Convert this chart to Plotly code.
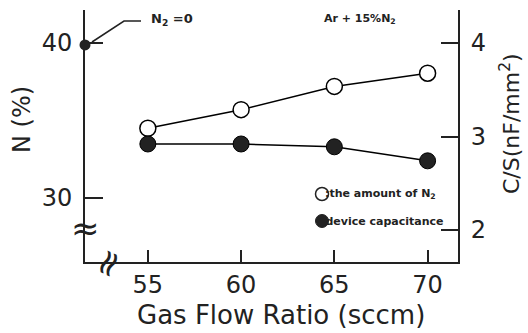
import plotly.graph_objects as go

flow = [55, 60, 65, 70]
n_percent = [34.5, 35.7, 37.2, 38.05]
capacitance = [2.92, 2.92, 2.89, 2.74]
ref_x = [51.63]
ref_cap = [3.98]
x_ticks = [55, 60, 65, 70]
y_ticks = [30, 40]
y2_ticks = [2, 3, 4]

FONT = "DejaVu Sans"
INK = "#222"

L, R, T, B = 85, 70, 10, 71
PW, PH = 528 - L - R, 333 - T - B
X_RANGE = [51.63, 71.63]
Y_RANGE = [25.87, 42.13]
Y2_RANGE = [1.658, 4.353]

fig = go.Figure()
fig.add_trace(go.Scatter(
    x=flow, y=n_percent, mode="lines+markers", yaxis="y",
    line=dict(color="black", width=1.5),
    marker=dict(symbol="circle", size=16, color="white", line=dict(color="black", width=1.5)),
    showlegend=False))
fig.add_trace(go.Scatter(
    x=flow, y=capacitance, mode="lines+markers", yaxis="y2",
    line=dict(color="black", width=1.5),
    marker=dict(symbol="circle", size=16, color=INK, line=dict(color="black", width=1)),
    showlegend=False))
fig.add_trace(go.Scatter(
    x=ref_x, y=ref_cap, mode="markers", yaxis="y2", cliponaxis=False,
    marker=dict(symbol="circle", size=11, color=INK),
    showlegend=False))

axis_common = dict(ticks="inside", tickwidth=2, tickcolor=INK, showline=True,
                   linecolor=INK, linewidth=2, showgrid=False, zeroline=False,
                   tickfont=dict(size=24, family=FONT, color=INK))
fig.update_layout(
    width=528, height=333,
    margin=dict(l=L, r=R, t=T, b=B),
    plot_bgcolor="white", paper_bgcolor="white",
    font=dict(family=FONT, color=INK),
    xaxis=dict(range=X_RANGE, tickvals=x_ticks, ticklen=12, ticklabelstandoff=0, **axis_common),
    yaxis=dict(range=Y_RANGE, tickvals=y_ticks, ticklen=18, ticklabelstandoff=6, **axis_common),
    yaxis2=dict(range=Y2_RANGE, tickvals=y2_ticks, ticklen=17, ticklabelstandoff=6,
                overlaying="y", side="right", **axis_common),
)


def px2paper(px, py):
    return (px - L) / PW, 1 - (py - T) / PH


ann = [
    dict(text="N (%)", x=22, y=120, textangle=-90, size=24),
    dict(text="C/S(nF/mm<sup>2</sup>)", x=510, y=124, textangle=-90, size=22),
    dict(text="Gas Flow Ratio (sccm)", x=281, y=315, size=26),
    dict(text="<b>Ar + 15%N<sub>2</sub></b>", x=360, y=19, size=11),
    dict(text="<b>N<sub>2</sub> =0</b>", x=172, y=20, size=13),
    dict(text="<b>:the amount of N<sub>2</sub></b>", x=380, y=194, size=11),
    dict(text="<b>:device capacitance</b>", x=382, y=221, size=11),
    dict(text="≈", x=85, y=228, size=34),
    dict(text="≈", x=107, y=263, textangle=-65, size=36),
]
for a in ann:
    xx, yy = px2paper(a["x"], a["y"])
    fig.add_annotation(text=a["text"], x=xx, y=yy, xref="paper", yref="paper",
                       showarrow=False, xanchor="center", yanchor="middle",
                       textangle=a.get("textangle", 0),
                       font=dict(size=a["size"], family=FONT, color=INK))

lx, ly1 = px2paper(322, 194)
_, ly2 = px2paper(322, 221)
r = 6.5 / PW
ry = 6.5 / PH
fig.add_shape(type="circle", xref="paper", yref="paper", x0=lx - r, x1=lx + r, y0=ly1 - ry, y1=ly1 + ry,
              line=dict(color=INK, width=1.5), fillcolor="white")
fig.add_shape(type="circle", xref="paper", yref="paper", x0=lx - r, x1=lx + r, y0=ly2 - ry, y1=ly2 + ry,
              line=dict(color=INK, width=1), fillcolor=INK)

p1 = px2paper(92, 42)
p2 = px2paper(124, 21)
p3 = px2paper(141, 21)
fig.add_shape(type="path", xref="paper", yref="paper",
              path=f"M {p1[0]},{p1[1]} L {p2[0]},{p2[1]} L {p3[0]},{p3[1]}",
              line=dict(color=INK, width=1.5))

fig.write_html("out.html")
